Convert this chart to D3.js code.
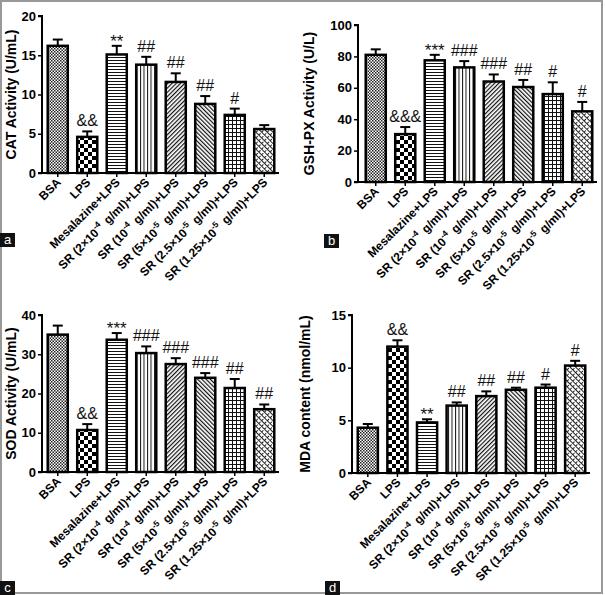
<!DOCTYPE html>
<html>
<head>
<meta charset="utf-8">
<script src="https://cdn.jsdelivr.net/npm/d3@7"></script>
<style>
  body { margin: 0; background: #fff; }
  svg { display: block; }
  text { font-family: "Liberation Sans", Arial, sans-serif; }
</style>
</head>
<body>
<svg id="chart" width="605" height="595"></svg>
<script>
// group names, "^" marks the superscript part
var categories = ["BSA", "LPS", "Mesalazine+LPS",
  "SR (2×10^-4^ g/ml)+LPS", "SR (10^-4^ g/ml)+LPS", "SR (5×10^-5^ g/ml)+LPS",
  "SR (2.5×10^-5^ g/ml)+LPS", "SR (1.25×10^-5^ g/ml)+LPS"];

// a: CAT
var catValues = [16.2, 4.6, 15.1, 13.8, 11.6, 8.8, 7.4, 5.6];
var catErrors = [0.8, 0.7, 1.1, 1.0, 1.1, 1.0, 0.8, 0.5];
var catMarks  = ["", "&&", "**", "##", "##", "##", "#", ""];
var catTicks  = [0, 5, 10, 15, 20];

// b: GSH-PX
var gshValues = [81, 30.5, 77.5, 73, 64, 60.5, 56, 45];
var gshErrors = [3.5, 4.5, 3.5, 4, 4.5, 4.5, 7.5, 6];
var gshMarks  = ["", "&&&", "***", "###", "###", "##", "#", "#"];
var gshTicks  = [0, 20, 40, 60, 80, 100];

// c: SOD
var sodValues = [35, 10.7, 33.7, 30.3, 27.5, 24, 21.4, 16];
var sodErrors = [2.3, 1.5, 1.7, 1.7, 1.5, 1.2, 2.3, 1.2];
var sodMarks  = ["", "&&", "***", "###", "###", "###", "##", "##"];
var sodTicks  = [0, 10, 20, 30, 40];

// d: MDA
var mdaValues = [4.3, 12, 4.8, 6.4, 7.3, 7.9, 8.1, 10.2];
var mdaErrors = [0.35, 0.6, 0.3, 0.3, 0.45, 0.2, 0.3, 0.45];
var mdaMarks  = ["", "&&", "**", "##", "##", "##", "#", "#"];
var mdaTicks  = [0, 5, 10, 15];

var svg = d3.select("#chart");

// outer frame
svg.append("rect")
    .attr("x", 1).attr("y", 1)
    .attr("width", 601).attr("height", 592)
    .attr("fill", "none")
    .attr("stroke", "#999")
    .attr("stroke-width", 2);

// fill patterns, one per group
var defs = svg.append("defs");

function pattern(id, w, h) {
  return defs.append("pattern")
      .attr("id", id)
      .attr("patternUnits", "userSpaceOnUse")
      .attr("width", w).attr("height", h);
}

var p0 = pattern("p0", 3, 3);
p0.append("rect").attr("width", 3).attr("height", 3).attr("fill", "#fff");
p0.append("rect").attr("width", 1.5).attr("height", 1.5).attr("fill", "#222");
p0.append("rect").attr("x", 1.5).attr("y", 1.5).attr("width", 1.5).attr("height", 1.5).attr("fill", "#222");

var p1 = pattern("p1", 8, 8);
p1.append("rect").attr("width", 8).attr("height", 8).attr("fill", "#fff");
p1.append("rect").attr("width", 4).attr("height", 4).attr("fill", "#000");
p1.append("rect").attr("x", 4).attr("y", 4).attr("width", 4).attr("height", 4).attr("fill", "#000");

var p2 = pattern("p2", 4, 3);
p2.append("rect").attr("width", 4).attr("height", 3).attr("fill", "#fff");
p2.append("rect").attr("width", 4).attr("height", 1).attr("fill", "#111");

var p3 = pattern("p3", 3.5, 4);
p3.append("rect").attr("width", 3.5).attr("height", 4).attr("fill", "#fff");
p3.append("rect").attr("width", 1).attr("height", 4).attr("fill", "#111");

var p4 = pattern("p4", 3, 3).attr("patternTransform", "rotate(45)");
p4.append("rect").attr("width", 3).attr("height", 3).attr("fill", "#fff");
p4.append("rect").attr("width", 1.2).attr("height", 3).attr("fill", "#111");

var p5 = pattern("p5", 3, 3).attr("patternTransform", "rotate(-45)");
p5.append("rect").attr("width", 3).attr("height", 3).attr("fill", "#fff");
p5.append("rect").attr("width", 1.2).attr("height", 3).attr("fill", "#111");

var p6 = pattern("p6", 4, 4);
p6.append("rect").attr("width", 4).attr("height", 4).attr("fill", "#fff");
p6.append("rect").attr("width", 4).attr("height", 1).attr("fill", "#111");
p6.append("rect").attr("width", 1).attr("height", 4).attr("fill", "#111");

var p7 = pattern("p7", 4, 4).attr("patternTransform", "rotate(45)");
p7.append("rect").attr("width", 4).attr("height", 4).attr("fill", "#fff");
p7.append("rect").attr("width", 4).attr("height", 1).attr("fill", "#222");
p7.append("rect").attr("x", 2).attr("y", 2).attr("width", 1).attr("height", 2).attr("fill", "#222");

var fills = ["p0", "p1", "p2", "p3", "p4", "p5", "p6", "p7"];

function drawPanel(cfg) {
  var g = svg.append("g");

  var y = d3.scaleLinear()
      .domain([0, cfg.max])
      .range([cfg.y0, cfg.yTop]);

  var x = d3.scaleBand()
      .domain(categories)
      .range(cfg.xRange)
      .paddingInner(0.32)
      .paddingOuter(0.16);

  // y axis
  var yAxis = d3.axisLeft(y)
      .tickValues(cfg.ticks)
      .tickSize(4)
      .tickPadding(2);
  var ya = g.append("g")
      .attr("transform", "translate(" + cfg.axisX + ",0)")
      .call(yAxis);
  ya.select(".domain").attr("stroke-width", 2).attr("d",
      "M-4," + cfg.yTop + "H0V" + cfg.y0);
  ya.selectAll(".tick line").attr("stroke-width", 1.5);
  ya.selectAll(".tick text")
      .attr("font-size", 13)
      .attr("font-weight", "bold")
      .attr("font-family", "Liberation Sans, Arial, sans-serif");

  // baseline and x ticks
  g.append("line")
      .attr("x1", cfg.axisX - 4).attr("x2", cfg.xRange[1])
      .attr("y1", cfg.y0).attr("y2", cfg.y0)
      .attr("stroke", "#000").attr("stroke-width", 2);

  g.selectAll(".xt")
      .data(categories)
      .enter().append("line")
      .attr("x1", function(d) { return x(d) + x.bandwidth() / 2; })
      .attr("x2", function(d) { return x(d) + x.bandwidth() / 2; })
      .attr("y1", cfg.y0).attr("y2", cfg.y0 + 4)
      .attr("stroke", "#000").attr("stroke-width", 1.5);

  // bars
  g.selectAll(".bar")
      .data(cfg.values)
      .enter().append("rect")
      .attr("x", function(d, i) { return x(categories[i]); })
      .attr("y", function(d) { return y(d); })
      .attr("width", x.bandwidth())
      .attr("height", function(d) { return cfg.y0 - y(d); })
      .attr("fill", function(d, i) { return "url(#" + fills[i] + ")"; })
      .attr("stroke", "#000")
      .attr("stroke-width", 2.5);

  // error bars
  var err = g.selectAll(".err")
      .data(cfg.values)
      .enter().append("g")
      .attr("stroke", "#000")
      .attr("stroke-width", 2);
  err.append("line")
      .attr("x1", function(d, i) { return x(categories[i]) + x.bandwidth() / 2; })
      .attr("x2", function(d, i) { return x(categories[i]) + x.bandwidth() / 2; })
      .attr("y1", function(d) { return y(d); })
      .attr("y2", function(d, i) { return y(d + cfg.errors[i]); });
  err.append("line")
      .attr("x1", function(d, i) { return x(categories[i]) + x.bandwidth() / 2 - 5; })
      .attr("x2", function(d, i) { return x(categories[i]) + x.bandwidth() / 2 + 5; })
      .attr("y1", function(d, i) { return y(d + cfg.errors[i]); })
      .attr("y2", function(d, i) { return y(d + cfg.errors[i]); });

  // significance marks
  g.selectAll(".mark")
      .data(cfg.values)
      .enter().append("text")
      .attr("x", function(d, i) { return x(categories[i]) + x.bandwidth() / 2; })
      .attr("y", function(d, i) {
        var yy = y(d + cfg.errors[i]) - 5;
        return cfg.marks[i].indexOf("*") >= 0 ? yy + 6 : yy;
      })
      .attr("text-anchor", "middle")
      .attr("font-size", function(d, i) { return cfg.marks[i].indexOf("*") >= 0 ? 17 : 16; })
      .attr("fill", "#111")
      .text(function(d, i) { return cfg.marks[i]; });

  // x labels, rotated
  var lab = g.selectAll(".xl")
      .data(categories)
      .enter().append("text")
      .attr("text-anchor", "end")
      .attr("font-size", 12)
      .attr("font-weight", "bold")
      .attr("transform", function(d) {
        var cx = x(d) + x.bandwidth() / 2 + 4;
        return "translate(" + cx + "," + (cfg.y0 + 10) + ") rotate(-45)";
      });
  lab.each(function(d) {
    var parts = d.split("^");
    var t = d3.select(this);
    t.append("tspan").text(parts[0]);
    if (parts.length > 1) {
      t.append("tspan").attr("dy", -5).attr("font-size", 8.5).text(parts[1]);
      t.append("tspan").attr("dy", 5).attr("dx", 2).text(parts[2]);
    }
  });

  // y title
  g.append("text")
      .attr("transform", "translate(" + cfg.titleX + "," + ((cfg.y0 + cfg.yTop) / 2) + ") rotate(-90)")
      .attr("text-anchor", "middle")
      .attr("font-size", 14)
      .attr("font-weight", "bold")
      .text(cfg.title);

  // panel letter
  g.append("rect")
      .attr("x", cfg.tagX).attr("y", cfg.tagY)
      .attr("width", 15).attr("height", 14)
      .attr("fill", "#111");
  g.append("text")
      .attr("x", cfg.tagX + 7.5).attr("y", cfg.tagY + 11)
      .attr("text-anchor", "middle")
      .attr("font-size", 13)
      .attr("fill", "#fff")
      .text(cfg.tag);
}

drawPanel({ tag: "a", title: "CAT Activity (U/mL)", max: 20, ticks: catTicks,
  values: catValues, errors: catErrors, marks: catMarks,
  axisX: 42, yTop: 16, y0: 173, xRange: [43, 279], titleX: 16, tagX: 0, tagY: 233 });

drawPanel({ tag: "b", title: "GSH-PX Activity (U/L)", max: 100, ticks: gshTicks,
  values: gshValues, errors: gshErrors, marks: gshMarks,
  axisX: 358, yTop: 25, y0: 182, xRange: [361, 597], titleX: 314, tagX: 324, tagY: 234 });

drawPanel({ tag: "c", title: "SOD Activity (U/mL)", max: 40, ticks: sodTicks,
  values: sodValues, errors: sodErrors, marks: sodMarks,
  axisX: 42, yTop: 315, y0: 472, xRange: [43, 279], titleX: 16, tagX: 0, tagY: 581 });

drawPanel({ tag: "d", title: "MDA content (nmol/mL)", max: 15, ticks: mdaTicks,
  values: mdaValues, errors: mdaErrors, marks: mdaMarks,
  axisX: 352, yTop: 315, y0: 473, xRange: [353, 590], titleX: 310, tagX: 325, tagY: 581 });
</script>
</body>
</html>
